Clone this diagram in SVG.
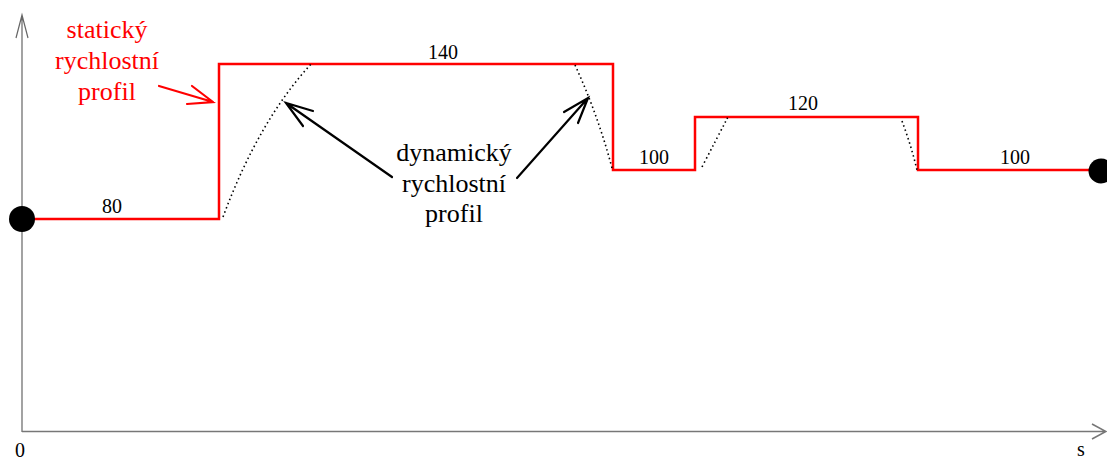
<svg xmlns="http://www.w3.org/2000/svg" width="1107" height="459" viewBox="0 0 1107 459">
<style>
.axis{stroke:#666;stroke-width:1.2;fill:none}
.prof{stroke:#f00;stroke-width:2.5;fill:none;stroke-linejoin:miter}
.dyn{stroke:#000;stroke-width:1.6;fill:none;stroke-dasharray:1.5 3}
.arr{stroke:#000;stroke-width:2.2;fill:none;stroke-linecap:round}
.arrR{stroke:#f00;stroke-width:2.2;fill:none;stroke-linecap:round}
text{font-family:"Liberation Serif","Times New Roman","DejaVu Serif",serif;text-anchor:middle}
.lbl{font-size:20px;fill:#000}
.big{font-size:26px}
</style>
<rect width="1107" height="459" fill="#fff"/>
<g id="axes">
<path class="axis" d="M22,432 V15 M16,38 L22,15 L28,38"/>
<path class="axis" d="M22,431.5 H1106 M1092,424 L1106,431.5 L1092,439" style="stroke:#777;stroke-width:1.6"/>
<text class="lbl" x="20" y="457">0</text>
<text class="lbl" x="1081" y="456">s</text>
</g>
<g id="static-profile">
<path class="prof" d="M22,219 H219 V64 H613 V170 H695 V117 H918 V170 H1101"/>
<circle cx="22" cy="219" r="13" fill="#000"/>
<circle cx="1101" cy="171" r="12.5" fill="#000"/>
<text class="lbl" x="112" y="213">80</text>
<text class="lbl" x="443" y="59">140</text>
<text class="lbl" x="654" y="164">100</text>
<text class="lbl" x="803" y="110">120</text>
<text class="lbl" x="1015" y="164">100</text>
</g>
<g id="dynamic-profile">
<path class="dyn" d="M223,217 Q259,120 312,63"/>
<path class="dyn" d="M575,65 Q598,115 612,168"/>
<path class="dyn" d="M702,167 Q717,138 728,117"/>
<path class="dyn" d="M902,121 Q911,145 917,170"/>
</g>
<g id="label-static">
<text class="big" fill="#f00" x="107" y="38">statický</text>
<text class="big" fill="#f00" x="107" y="69">rychlostní</text>
<text class="big" fill="#f00" x="107" y="100">profil</text>
</g>
<g id="label-dynamic">
<text class="big" fill="#000" x="454" y="161">dynamický</text>
<text class="big" fill="#000" x="454" y="192">rychlostní</text>
<text class="big" fill="#000" x="454" y="222">profil</text>
</g>
<g id="connectors">
<path class="arrR" d="M159,86 L213,102 M192,86 L213,102 L187,104"/>
<path class="arr" d="M392,177 L286,103 M313,111 L286,103 L303,126"/>
<path class="arr" d="M517,178 L588,98 M564,112 L588,98 L578,123"/>
</g>
</svg>
